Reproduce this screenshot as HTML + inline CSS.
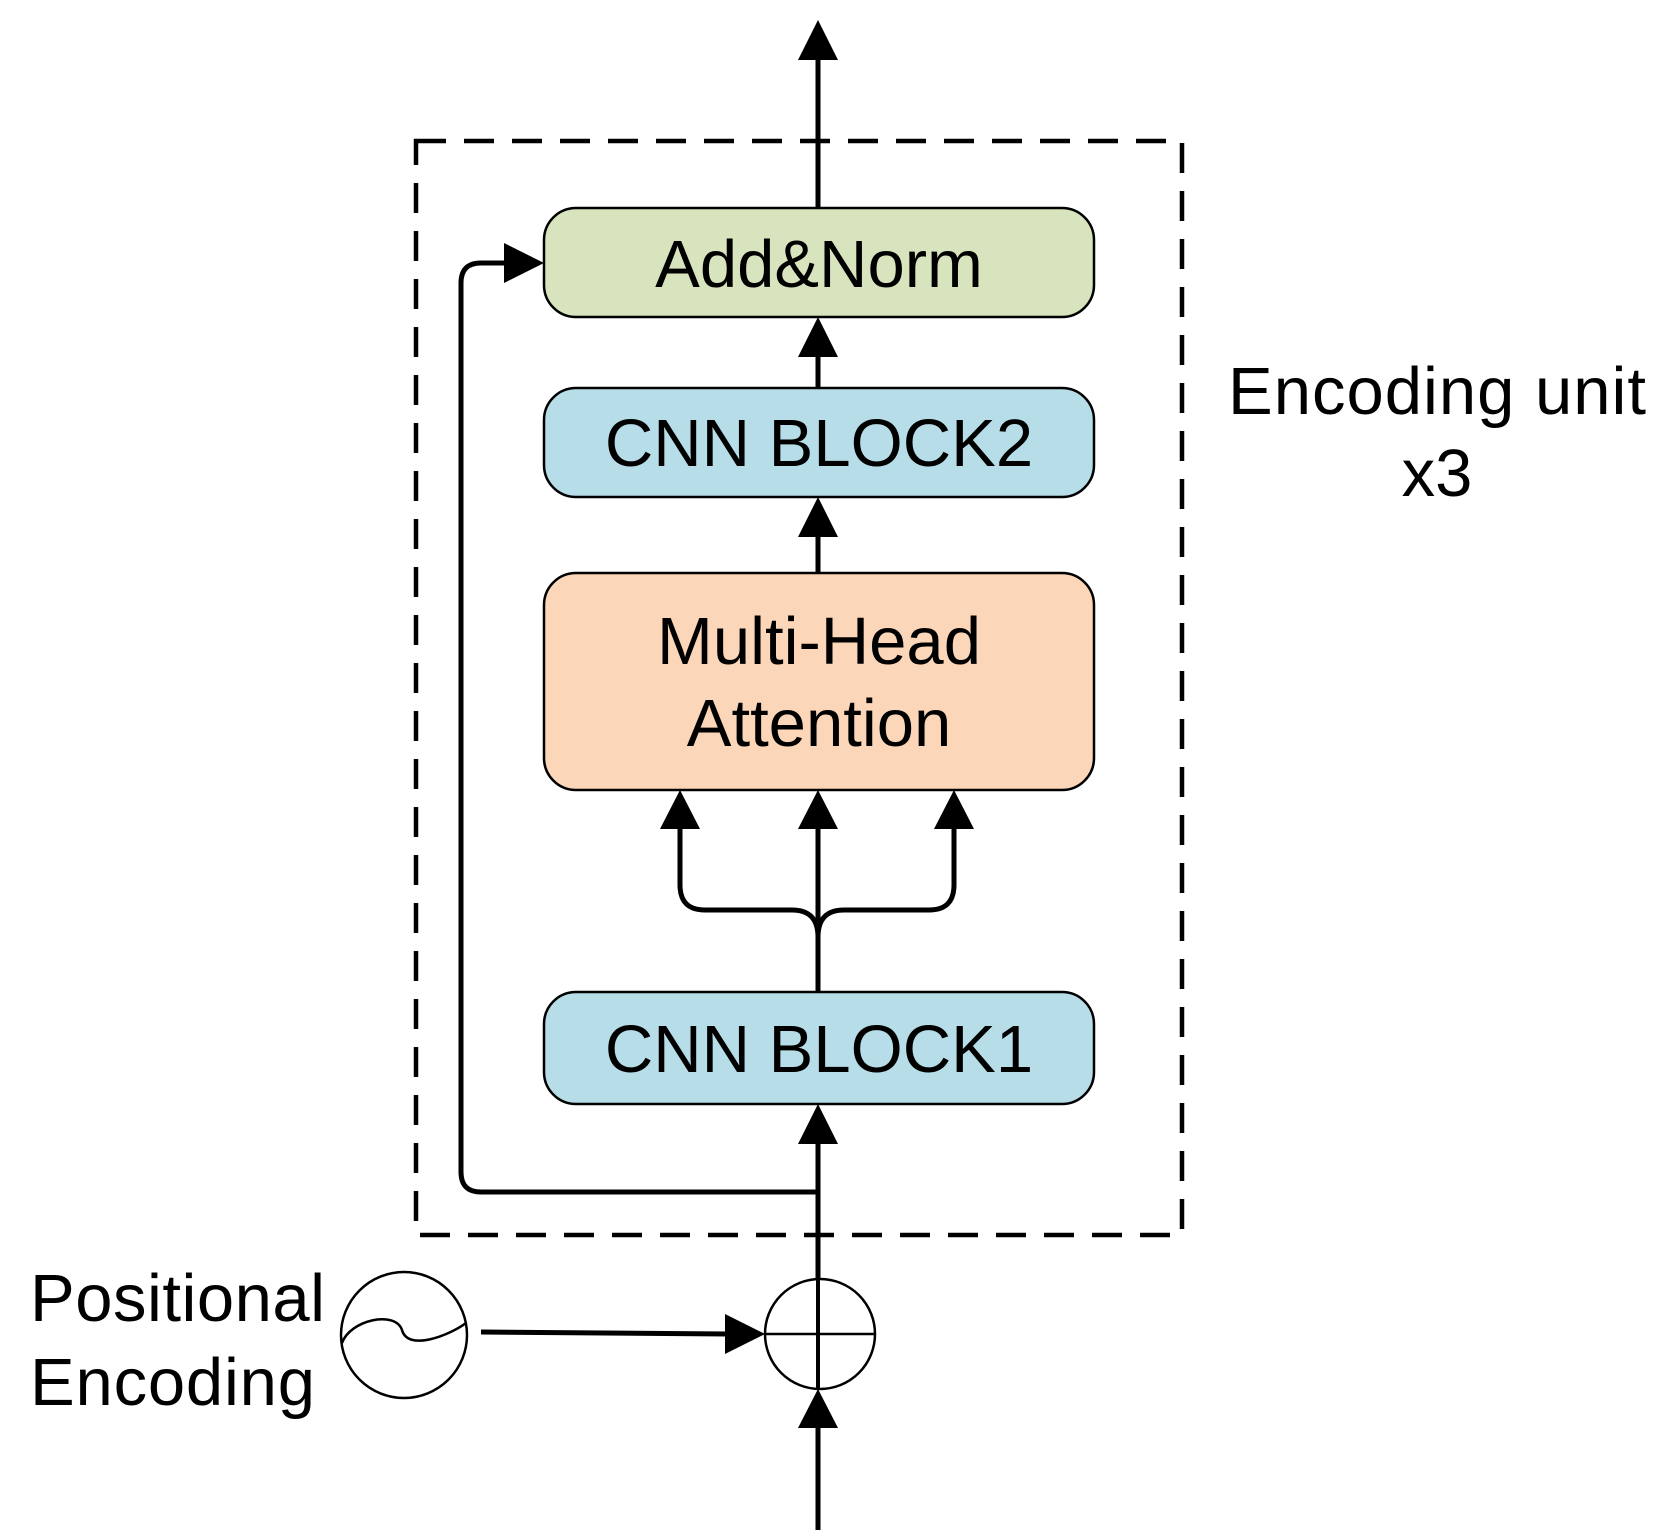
<!DOCTYPE html>
<html><head><style>html,body{margin:0;padding:0;background:#fff}svg{display:block}</style></head>
<body>
<svg width="1659" height="1538" viewBox="0 0 1659 1538" xmlns="http://www.w3.org/2000/svg" font-family="Liberation Sans, Arial, sans-serif">
<!-- dashed frame -->
<rect x="416" y="141" width="1166" height="1094" fill="none" stroke="#000" stroke-width="4.5" stroke-dasharray="30,18" transform="translate(0,0)" style="display:none"/>
<rect x="416" y="141" width="774" height="1094" fill="none" stroke="#000" stroke-width="4.5" stroke-dasharray="30,18" style="display:none"/>
<rect x="416" y="141" width="766" height="1094" fill="none" stroke="#000" stroke-width="4.5" stroke-dasharray="30,18"/>
<!-- boxes -->
<rect x="544" y="208" width="550" height="109" rx="32" fill="#d7e4bd" stroke="#000" stroke-width="2.5"/>
<rect x="544" y="388" width="550" height="109" rx="32" fill="#b7dde8" stroke="#000" stroke-width="2.5"/>
<rect x="544" y="573" width="550" height="217" rx="32" fill="#fbd6b8" stroke="#000" stroke-width="2.5"/>
<rect x="544" y="992" width="550" height="112" rx="32" fill="#b7dde8" stroke="#000" stroke-width="2.5"/>
<g font-size="67" fill="#000" text-anchor="middle">
<text x="819" y="287">Add&amp;Norm</text>
<text x="819" y="466">CNN BLOCK2</text>
<text x="819" y="664">Multi-Head</text>
<text x="819" y="746">Attention</text>
<text x="819" y="1072">CNN BLOCK1</text>
</g>
<g stroke="#000" stroke-width="5" fill="none">
<line x1="818" y1="60" x2="818" y2="208"/>
<line x1="818" y1="357" x2="818" y2="388"/>
<line x1="818" y1="537" x2="818" y2="573"/>
<line x1="818" y1="829" x2="818" y2="992"/>
<path d="M680 829 V885 Q680 910 705 910 H792 Q818 910 818 937 Q818 910 844 910 H929 Q954 910 954 885 V829"/>
<line x1="818" y1="1144" x2="818" y2="1280"/>
<path d="M818 1192 H481 Q461 1192 461 1172 V283 Q461 263 481 263 H505"/>
<line x1="818" y1="1428" x2="818" y2="1530"/>
<line x1="481" y1="1332" x2="727" y2="1334"/>
</g>
<g fill="#000">
<polygon points="818,20 798,60 838,60"/>
<polygon points="818,317 798,357 838,357"/>
<polygon points="818,497 798,537 838,537"/>
<polygon points="680,790 660,829 700,829"/>
<polygon points="818,790 798,829 838,829"/>
<polygon points="954,790 934,829 974,829"/>
<polygon points="818,1104 798,1144 838,1144"/>
<polygon points="544,263 504,243 504,283"/>
<polygon points="765,1334 725,1314 725,1354"/>
<polygon points="818,1389 798,1428 838,1428"/>
</g>
<circle cx="820" cy="1334" r="55" fill="none" stroke="#000" stroke-width="2.5"/>
<line x1="765" y1="1334" x2="875" y2="1334" stroke="#000" stroke-width="2.5"/>
<line x1="818" y1="1279" x2="818" y2="1389" stroke="#000" stroke-width="4"/>
<circle cx="404" cy="1335" r="63" fill="none" stroke="#000" stroke-width="2.5"/>
<path d="M342 1343 C350 1320 395 1310 402 1330 C408 1352 450 1335 466 1323" fill="none" stroke="#000" stroke-width="2.5"/>
<g font-size="67" fill="#000">
<text x="1228" y="414" textLength="418">Encoding unit</text>
<text x="1437" y="496" text-anchor="middle">x3</text>
<text x="30" y="1321" textLength="295">Positional</text>
<text x="30" y="1405" textLength="285">Encoding</text>
</g>
</svg>
</body></html>
